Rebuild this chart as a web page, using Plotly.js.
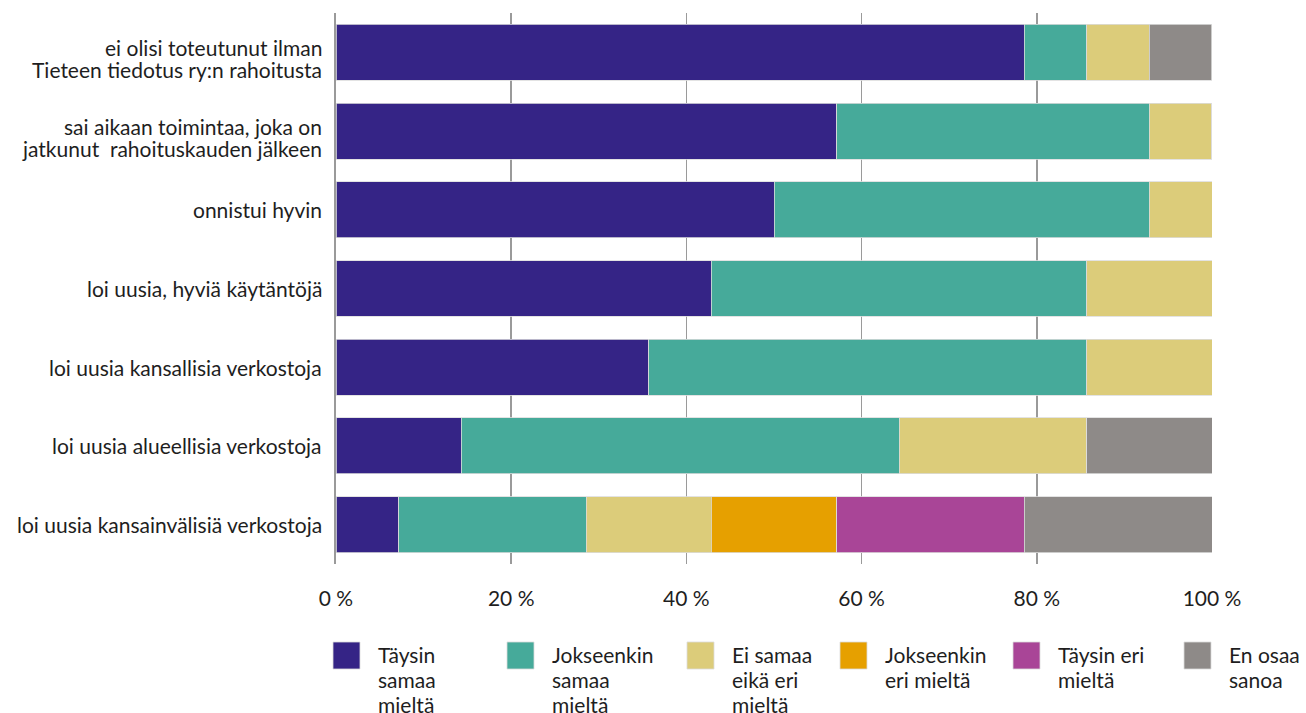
<!DOCTYPE html>
<html>
<head>
<meta charset="utf-8">
<script src="https://cdn.plot.ly/plotly-3.0.1.min.js"></script>
<style>html,body{margin:0;padding:0;background:#fff;}#chart{width:1306px;height:713px;}</style>
</head>
<body>
<div id="chart"></div>
<script>
// ---- data ----
const categories = [
  "ei olisi toteutunut ilman\nTieteen tiedotus ry:n rahoitusta",
  "sai aikaan toimintaa, joka on\njatkunut  rahoituskauden jälkeen",
  "onnistui hyvin",
  "loi uusia, hyviä käytäntöjä",
  "loi uusia kansallisia verkostoja",
  "loi uusia alueellisia verkostoja",
  "loi uusia kansainvälisiä verkostoja"
];
const seriesNames = [
  "Täysin\nsamaa\nmieltä",
  "Jokseenkin\nsamaa\nmieltä",
  "Ei samaa\neikä eri\nmieltä",
  "Jokseenkin\neri mieltä",
  "Täysin eri\nmieltä",
  "En osaa\nsanoa"
];
const taysinSamaa     = [78.57, 57.14, 50.00, 42.86, 35.71, 14.29,  7.14];
const jokseenkinSamaa = [ 7.14, 35.71, 42.86, 42.86, 50.00, 50.00, 21.43];
const eiSamaaEikaEri  = [ 7.14,  7.14,  7.14, 14.29, 14.29, 21.43, 14.29];
const jokseenkinEri   = [ 0,     0,     0,     0,     0,     0,    14.29];
const taysinEri       = [ 0,     0,     0,     0,     0,     0,    21.43];
const enOsaa          = [ 7.14,  0,     0,     0,     0,    14.29, 21.43];
const tickVals = [0, 20, 40, 60, 80, 100];
const tickText = ["0 %", "20 %", "40 %", "60 %", "80 %", "100 %"];

// ---- style ----
const seriesValues = [taysinSamaa, jokseenkinSamaa, eiSamaaEikaEri, jokseenkinEri, taysinEri, enOsaa];
const colors = ["#352486", "#46AA9A", "#DCCC7A", "#E6A000", "#A94597", "#8E8A88"];
const FONT = "Lato, 'Noto Sans', sans-serif";
const TXT = "#1e1e1e";

const catKeys = categories.map(c => c.replace(/\n/g, " "));

const traces = seriesValues.map((vals, i) => ({
  type: "bar",
  orientation: "h",
  name: seriesNames[i].replace(/\n/g, " "),
  y: catKeys,
  x: vals,
  marker: { color: colors[i], line: { color: "#dcdcdc", width: 0.8 } },
  showlegend: false,
  hovertemplate: "%{y}: %{x:.1f} %<extra></extra>"
}));

// plot area in px
const L = 336, R = 1212, T = 13, B = 564, W = 1306, H = 713;
const px2x = p => (p - L) / (R - L);
const px2y = p => (B - p) / (B - T);

const shapes = [], annotations = [];

// category labels (tight line spacing), positioned on the category axis
const catFont = 21, catLineH = 22;
categories.forEach((c, i) => {
  const lines = c.split("\n");
  lines.forEach((line, k) => {
    const shift = lines.length === 1 ? 0 : (k === 0 ? 5 : 5 - catLineH);
    annotations.push({
      xref: "paper", yref: "y", showarrow: false,
      x: px2x(324), xanchor: "right",
      y: catKeys[i], yanchor: "middle", yshift: shift,
      text: line, font: { family: FONT, size: catFont, color: TXT }
    });
  });
});

// manual legend (layout only)
const legendSqX = [333, 507, 687, 840, 1013, 1184];
const sqTop = 642, sqSize = 27, textGap = 43, lineH = 25, legFont = 21;
seriesNames.forEach((nm, i) => {
  shapes.push({
    type: "rect", xref: "paper", yref: "paper",
    x0: px2x(legendSqX[i]), x1: px2x(legendSqX[i] + sqSize),
    y0: px2y(sqTop), y1: px2y(sqTop + sqSize),
    fillcolor: colors[i], line: { color: "#dcdcdc", width: 0.8 }
  });
  nm.split("\n").forEach((line, k) => {
    annotations.push({
      xref: "paper", yref: "paper", showarrow: false,
      x: px2x(legendSqX[i] + textGap), xanchor: "left",
      y: px2y(654 + k * lineH), yanchor: "middle",
      text: line, font: { family: FONT, size: legFont, color: TXT }
    });
  });
});

const layout = {
  width: W, height: H,
  margin: { l: L, r: W - R, t: T, b: H - B, pad: 0 },
  paper_bgcolor: "#fff", plot_bgcolor: "#fff",
  barmode: "stack",
  bargap: 0.29,
  font: { family: FONT, size: 18, color: TXT },
  xaxis: {
    range: [0, 100], tickvals: tickVals, ticktext: tickText,
    showgrid: true, gridcolor: "#9a9a9a", gridwidth: 1.6,
    zeroline: false, showline: false, ticks: "",
    ticklabelstandoff: 20,
    tickfont: { family: FONT, size: 21, color: TXT },
    fixedrange: true
  },
  yaxis: {
    autorange: "reversed", showgrid: false, zeroline: false,
    showline: true, linecolor: "#9a9a9a", linewidth: 1.6,
    ticks: "", showticklabels: false,
    fixedrange: true
  },
  shapes: shapes,
  annotations: annotations
};

Plotly.newPlot("chart", traces, layout, { displayModeBar: false, staticPlot: true });
</script>
</body>
</html>
